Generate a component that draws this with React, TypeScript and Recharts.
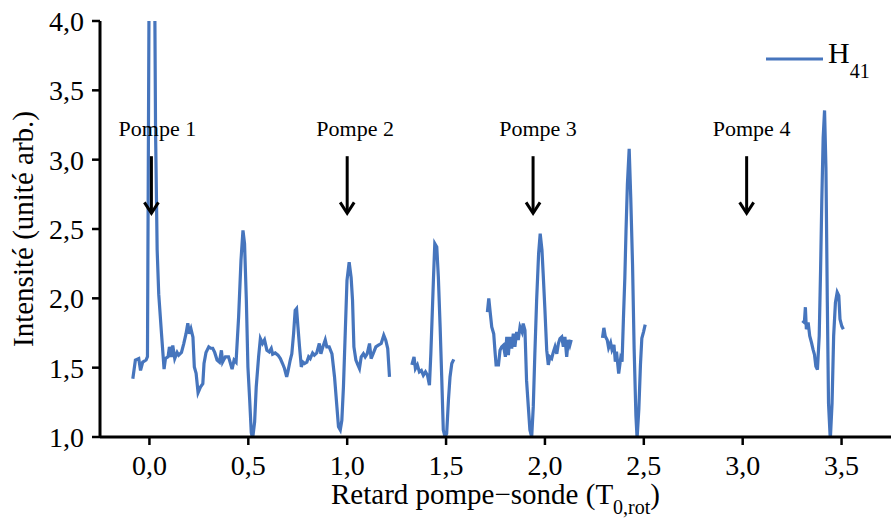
import { LineChart, Line, XAxis, YAxis, ReferenceLine, ReferenceDot, Legend } from "recharts"

const BLUE = "#4675BD"
const FONT = "Liberation Serif"

const xTicks = [0, 0.5, 1, 1.5, 2, 2.5, 3, 3.5]
const yTicks = [1, 1.5, 2, 2.5, 3, 3.5, 4]

// pump arrows: arrow position, label position
const pumpNames = ["Pompe 1", "Pompe 2", "Pompe 3", "Pompe 4"]
const pumpX = [0.01, 1.0, 1.94, 3.02]
const pumpLabelX = [0.04, 1.04, 1.965, 3.045]

// measured H41 segments, [delay, intensity]
const seg1: [number, number][] = [
	[-0.084, 1.42], [-0.071, 1.555], [-0.054, 1.566], [-0.045, 1.48], [-0.034, 1.54], [-0.017, 1.555],
	[-0.01, 1.58], [-0.005, 3.2], [0.0, 4.8], [0.013, 5.6], [0.025, 4.6], [0.031, 3.2], [0.039, 2.35],
	[0.047, 2.03], [0.061, 1.745], [0.074, 1.49], [0.081, 1.566], [0.094, 1.578], [0.101, 1.65],
	[0.111, 1.578], [0.118, 1.66], [0.128, 1.566], [0.14, 1.61], [0.148, 1.59], [0.162, 1.61],
	[0.173, 1.67], [0.185, 1.745], [0.194, 1.82], [0.202, 1.745], [0.21, 1.78], [0.22, 1.72],
	[0.227, 1.505], [0.236, 1.46], [0.246, 1.32], [0.258, 1.36], [0.27, 1.385], [0.276, 1.53],
	[0.286, 1.61], [0.3, 1.65], [0.31, 1.64], [0.32, 1.64], [0.33, 1.61], [0.342, 1.555], [0.354, 1.54],
	[0.364, 1.625], [0.37, 1.54], [0.384, 1.578], [0.4, 1.578], [0.418, 1.49], [0.428, 1.555],
	[0.438, 1.54], [0.451, 1.866], [0.463, 2.275], [0.473, 2.49], [0.481, 2.395], [0.49, 1.99],
	[0.498, 1.505], [0.507, 1.265], [0.515, 1.03], [0.522, 0.99], [0.532, 1.11], [0.54, 1.36],
	[0.552, 1.578], [0.561, 1.71], [0.572, 1.675], [0.582, 1.7], [0.594, 1.626], [0.606, 1.614],
	[0.616, 1.638], [0.623, 1.597], [0.636, 1.606], [0.65, 1.59], [0.662, 1.566], [0.673, 1.53],
	[0.683, 1.494], [0.694, 1.433], [0.7, 1.47], [0.712, 1.555], [0.72, 1.6], [0.729, 1.745],
	[0.737, 1.914], [0.744, 1.926], [0.751, 1.794], [0.759, 1.65], [0.768, 1.505], [0.776, 1.54],
	[0.784, 1.53], [0.796, 1.54], [0.805, 1.578], [0.813, 1.566], [0.825, 1.606], [0.834, 1.59],
	[0.846, 1.606], [0.859, 1.674], [0.867, 1.6], [0.877, 1.65], [0.889, 1.7], [0.897, 1.65],
	[0.909, 1.65], [0.923, 1.6], [0.936, 1.433], [0.948, 1.217], [0.956, 1.073], [0.965, 1.05],
	[0.973, 1.12], [0.981, 1.36], [0.99, 1.745], [0.999, 2.13], [1.01, 2.26], [1.02, 2.15],
	[1.027, 1.986], [1.034, 1.65], [1.044, 1.555], [1.054, 1.52], [1.062, 1.494], [1.071, 1.578],
	[1.082, 1.6], [1.091, 1.578], [1.101, 1.6], [1.113, 1.674], [1.121, 1.566], [1.131, 1.6],
	[1.145, 1.65], [1.158, 1.662], [1.172, 1.674], [1.185, 1.734], [1.195, 1.698], [1.205, 1.638],
	[1.214, 1.433],
]

const seg2: [number, number][] = [
	[1.327, 1.52], [1.338, 1.578], [1.345, 1.494], [1.355, 1.52], [1.365, 1.47], [1.375, 1.48],
	[1.385, 1.445], [1.396, 1.47], [1.406, 1.445], [1.416, 1.373], [1.423, 1.6], [1.429, 1.842],
	[1.436, 2.13], [1.443, 2.395], [1.453, 2.37], [1.461, 2.154], [1.47, 1.794], [1.478, 1.433],
	[1.486, 1.05], [1.495, 1.0], [1.503, 1.025], [1.512, 1.265], [1.52, 1.433], [1.529, 1.53],
	[1.539, 1.56],
]

const seg3: [number, number][] = [
	[1.709, 1.9], [1.716, 2.0], [1.722, 1.914], [1.731, 1.794], [1.741, 1.745], [1.747, 1.626],
	[1.753, 1.52], [1.765, 1.52], [1.773, 1.626], [1.781, 1.65], [1.79, 1.662], [1.8, 1.578],
	[1.807, 1.722], [1.815, 1.59], [1.823, 1.722], [1.832, 1.638], [1.84, 1.745], [1.848, 1.65],
	[1.857, 1.758], [1.865, 1.7], [1.874, 1.794], [1.884, 1.758], [1.89, 1.818], [1.899, 1.77],
	[1.907, 1.41], [1.916, 1.217], [1.924, 1.05], [1.933, 1.0], [1.941, 1.217], [1.949, 1.6],
	[1.958, 1.986], [1.968, 2.323], [1.976, 2.467], [1.985, 2.347], [1.991, 2.18], [2.0, 1.914],
	[2.009, 1.626], [2.017, 1.52], [2.025, 1.578], [2.034, 1.566], [2.042, 1.61], [2.051, 1.65],
	[2.06, 1.6], [2.068, 1.674], [2.076, 1.71], [2.085, 1.722], [2.093, 1.65], [2.101, 1.722],
	[2.11, 1.578], [2.118, 1.7], [2.126, 1.662], [2.133, 1.7],
]

const seg4: [number, number][] = [
	[2.291, 1.715], [2.298, 1.787], [2.305, 1.727], [2.315, 1.7], [2.322, 1.643], [2.332, 1.68],
	[2.339, 1.63], [2.349, 1.665], [2.356, 1.543], [2.362, 1.615], [2.373, 1.458], [2.383, 1.567],
	[2.39, 1.543], [2.397, 1.857], [2.404, 2.147], [2.41, 2.486], [2.417, 2.825], [2.426, 3.079],
	[2.434, 2.724], [2.443, 2.244], [2.451, 1.64], [2.46, 1.155], [2.466, 0.99], [2.475, 1.204],
	[2.483, 1.52], [2.49, 1.712], [2.499, 1.76], [2.507, 1.81],
]

const seg5: [number, number][] = [
	[3.302, 1.838], [3.312, 1.826], [3.317, 1.936], [3.322, 1.777], [3.331, 1.826], [3.339, 1.729],
	[3.348, 1.68], [3.356, 1.63], [3.363, 1.595], [3.37, 1.51], [3.378, 1.486], [3.387, 1.729],
	[3.394, 2.214], [3.4, 2.7], [3.407, 3.16], [3.414, 3.355], [3.421, 2.943], [3.428, 1.97],
	[3.434, 1.244], [3.443, 0.98], [3.452, 1.244], [3.46, 1.729], [3.469, 1.97], [3.478, 2.044],
	[3.486, 2.02], [3.492, 1.85], [3.501, 1.8], [3.509, 1.777],
]

const segments = [seg1, seg2, seg3, seg4, seg5].map((s) => s.map(([x, y]) => ({ x, y })))

const fmt = (v: number) => v.toFixed(1).replace(".", ",")

const YTitle = ({ viewBox }: any) => {
	const cy = viewBox.y + viewBox.height / 2
	return (
		<text
			transform={`translate(${viewBox.x + 33}, ${cy}) rotate(-90)`}
			textAnchor="middle"
			fontSize={29}
			fontFamily={FONT}
			fill="#000"
		>
			Intensité (unité arb.)
		</text>
	)
}

const XTitle = ({ viewBox }: any) => {
	const cx = viewBox.x + viewBox.width / 2
	return (
		<text x={cx} y={viewBox.y + 67} textAnchor="middle" fontSize={29} fontFamily={FONT} fill="#000">
			Retard pompe−sonde (T
			<tspan dy={10} fontSize={20}>0,rot</tspan>
			<tspan dy={-10}>)</tspan>
		</text>
	)
}

const ArrowHead = ({ cx, cy }: any) => (
	<path d={`M${cx - 7},${cy - 11} L${cx},${cy} L${cx + 7},${cy - 11}`} stroke="#000" strokeWidth={3} fill="none" />
)

const PumpText = (name: string) => ({ cx, cy }: any) => (
	<text x={cx} y={cy} textAnchor="middle" fontSize={22} fontFamily={FONT} fill="#000">
		{name}
	</text>
)

const LegendBox = () => (
	<svg width={124} height={60} style={{ overflow: "visible", display: "block" }}>
		<line x1={2} y1={21} x2={59} y2={21} stroke={BLUE} strokeWidth={3} />
		<text x={64} y={25} fontSize={30} fontFamily={FONT} fill="#000">
			H<tspan dy={15} fontSize={20}>41</tspan>
		</text>
	</svg>
)

const App = () => {
	return (
		<div
			style={{
				position: "absolute",
				left: 0,
				top: 0,
				width: 891,
				height: 521,
				background: "#fff",
				fontFamily: FONT,
			}}
		>
			<LineChart width={891} height={521} margin={{ top: 21, right: 0, bottom: 0, left: 0 }}>
				<XAxis
					xAxisId="top"
					orientation="top"
					type="number"
					domain={[-0.25, 3.75]}
					ticks={xTicks}
					tick={false}
					tickSize={8}
					height={0}
					allowDataOverflow
					axisLine={{ stroke: "#000", strokeWidth: 3 }}
					tickLine={{ stroke: "#000", strokeWidth: 2.5 }}
				/>
				<XAxis
					dataKey="x"
					type="number"
					domain={[-0.25, 3.75]}
					ticks={xTicks}
					tickFormatter={fmt}
					tickSize={8}
					tickMargin={10}
					height={84}
					allowDataOverflow
					axisLine={{ stroke: "#000", strokeWidth: 3 }}
					tickLine={{ stroke: "#000", strokeWidth: 2.5 }}
					tick={{ fill: "#000", fontSize: 28, fontFamily: FONT }}
					label={<XTitle />}
				/>
				<YAxis
					type="number"
					domain={[1, 4]}
					ticks={yTicks}
					tickFormatter={fmt}
					tickSize={8}
					tickMargin={8}
					width={100}
					allowDataOverflow
					axisLine={{ stroke: "#000", strokeWidth: 3 }}
					tickLine={{ stroke: "#000", strokeWidth: 2.5 }}
					tick={{ fill: "#000", fontSize: 28, fontFamily: FONT }}
					label={<YTitle />}
				/>
				<Legend
					verticalAlign="middle"
					align="center"
					layout="horizontal"
					wrapperStyle={{ top: 38, left: 764, width: 124, height: 60, overflow: "visible" }}
					content={() => <LegendBox />}
				/>
				{segments.map((data, i) => (
					<Line
						key={i}
						data={data}
						dataKey="y"
						name="H41"
						type="linear"
						stroke={BLUE}
						strokeWidth={3.2}
						dot={false}
						activeDot={false}
						isAnimationActive={false}
						legendType={i === 0 ? "line" : "none"}
					/>
				))}
				{pumpX.map((x, i) => (
					<ReferenceLine
						key={`s${i}`}
						segment={[{ x, y: 3.025 }, { x, y: 2.625 }]}
						stroke="#000"
						strokeWidth={3}
					/>
				))}
				{pumpX.map((x, i) => (
					<ReferenceDot key={`h${i}`} x={x} y={2.613} r={0} shape={<ArrowHead />} />
				))}
				{pumpNames.map((name, i) => (
					<ReferenceDot key={`t${i}`} x={pumpLabelX[i]} y={3.17} r={0} shape={PumpText(name)} />
				))}
			</LineChart>
		</div>
	)
}

export default App
